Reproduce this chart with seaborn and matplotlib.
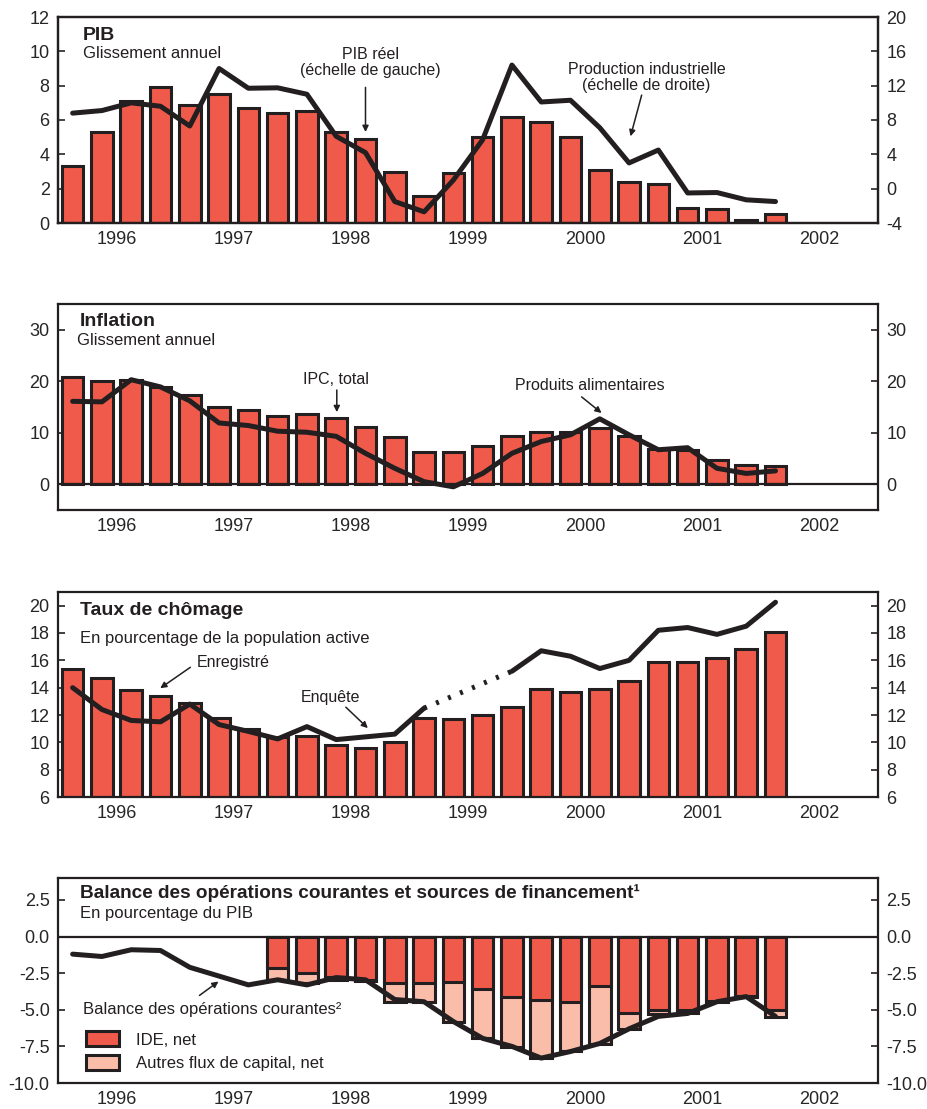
import numpy as np
import pandas as pd
import seaborn as sns
import matplotlib.pyplot as plt
from matplotlib.patches import Patch

# quarters 1996T1 .. 2002T1 (25 obs), axis runs to 2002T4
years = ["1996", "1997", "1998", "1999", "2000", "2001", "2002"]

# PIB
pib_reel = [3.3, 5.3, 7.1, 7.9, 6.9, 7.5, 6.7, 6.4, 6.5, 5.3, 4.9, 3.0, 1.6,
            2.9, 5.0, 6.2, 5.9, 5.0, 3.1, 2.4, 2.3, 0.9, 0.8, 0.2, 0.5]
prod_ind = [8.8, 9.1, 10.0, 9.6, 7.3, 14.0, 11.7, 11.75, 11.0, 6.1, 4.2, -1.5, -2.7,
            1.0, 5.7, 14.4, 10.1, 10.3, 7.1, 3.0, 4.5, -0.5, -0.45, -1.3, -1.5]

# Inflation
ipc_total = [20.8, 20.0, 20.3, 18.8, 17.4, 15.0, 14.4, 13.2, 13.6, 12.9, 11.1, 9.2, 6.2,
             6.3, 7.5, 9.4, 10.1, 10.1, 10.9, 9.4, 6.8, 6.7, 4.8, 3.8, 3.6]
alimentaires = [16.1, 16.0, 20.3, 18.9, 16.2, 11.9, 11.4, 10.3, 10.1, 9.3, 6.0, 3.1, 0.5,
                -0.5, 2.1, 6.0, 8.3, 9.6, 12.7, 9.6, 6.7, 7.1, 3.1, 2.1, 2.6]

# Chomage
enregistre = [15.4, 14.7, 13.8, 13.4, 12.9, 11.8, 11.0, 10.4, 10.5, 9.8, 9.6, 10.0, 11.8,
              11.7, 12.0, 12.55, 13.9, 13.7, 13.9, 14.5, 15.9, 15.9, 16.2, 16.85, 18.1]
enquete = [14.0, 12.4, 11.6, 11.5, 12.8, 11.3, 10.8, 10.25, 11.15, 10.2, 10.4, 10.6, 12.5,
           np.nan, np.nan, 15.2, 16.7, 16.3, 15.4, 16.0, 18.2, 18.4, 17.9, 18.5, 20.25]

# Balance courante et financement (bars from 1997T4)
bal_courante = [-1.2, -1.36, -0.9, -0.95, -2.1, -2.7, -3.3, -2.95, -3.3, -2.8, -2.95, -4.3, -4.45,
                -5.8, -6.95, -7.5, -8.3, -7.85, -7.3, -6.3, -5.45, -5.25, -4.45, -4.1, -5.45]
ide_net = [-2.16, -2.5, -2.75, -2.95, -3.2, -3.2, -3.1, -3.6, -4.1, -4.35, -4.5, -3.4,
           -5.2, -5.0, -5.0, -4.4, -4.05, -5.0]
autres_flux = [-0.8, -0.7, -0.2, -0.05, -1.25, -1.25, -2.7, -3.35, -3.45, -3.95, -3.3, -3.95,
               -1.1, -0.3, -0.25, -0.05, -0.1, -0.5]

RED = "#EF5A4B"
PINK = "#F9BDAA"
INK = "#231F20"

sns.set_style("white")
plt.rcParams['font.family'] = ['Liberation Sans', 'DejaVu Sans']
plt.rcParams['axes.edgecolor'] = INK
plt.rcParams['axes.linewidth'] = 1.6
plt.rcParams['text.color'] = INK

fig = plt.figure(figsize=(9.27, 11.09), dpi=100)
L, W = 58 / 927, 820 / 927
def add_ax(top, bot):
    return fig.add_axes([L, 1 - bot / 1109, W, (bot - top) / 1109])

q = np.arange(len(pib_reel))
q_bal = np.arange(7, 7 + len(ide_net))


def bars(ax, x, y, color):
    d = pd.DataFrame({"x": x, "y": y})
    sns.barplot(data=d, x="x", y="y", ax=ax, color=color, native_scale=True,
                width=0.74, edgecolor=INK, linewidth=2.2, saturation=1)


def line(ax, x, y, **kw):
    d = pd.DataFrame({"x": x, "y": y})
    d["seg"] = d["y"].isna().cumsum()
    d = d.dropna()
    sns.lineplot(data=d, x="x", y="y", units="seg", estimator=None, ax=ax,
                 color=INK, lw=3.6, **kw)


def arrow(ax, start, tip):
    ax.annotate("", xy=tip, xytext=start,
                arrowprops=dict(arrowstyle="-|>", color=INK, lw=1.1, shrinkA=0, shrinkB=0,
                                mutation_scale=9))


def style_x(ax):
    ax.set_xlim(-0.5, 27.5)
    ax.set_xticks(np.arange(1.5, 27, 2))
    lab = []
    for i in range(13):
        lab.append(years[i // 2] if i % 2 == 0 else "")
    ax.set_xticklabels(lab, fontsize=13)
    ax.set_xticks(np.arange(0.5, 27, 1), minor=True)
    ax.tick_params(axis="x", which="major", direction="in", length=9, width=1.2,
                   color=INK, pad=6)
    ax.tick_params(axis="x", which="minor", direction="in", length=5, width=1.2, color=INK)
    ax.set_xlabel("")
    ax.set_ylabel("")


def style_y(ax, ticks, fmt="{:g}"):
    ax.set_yticks(ticks)
    ax.set_yticklabels([fmt.format(t) for t in ticks], fontsize=13)
    ax.tick_params(axis="y", direction="in", length=5, width=1.2, color=INK,
                   left=True, right=True, labelleft=True, labelright=True, pad=6)


# ---- Panel 1: PIB
ax1 = add_ax(17, 223)
bars(ax1, q, pib_reel, RED)
ax1.set_ylim(0, 12)
style_x(ax1)
ax1.set_yticks(range(0, 13, 2))
ax1.set_yticklabels([str(t) for t in range(0, 13, 2)], fontsize=13)
ax1.tick_params(axis="y", direction="in", length=5, width=1.2, left=True, right=False, pad=6)
ax1r = ax1.twinx()
line(ax1r, q, prod_ind)
ax1r.set_ylim(-4, 20)
ax1r.set_yticks(range(-4, 21, 4))
ax1r.set_yticklabels([str(t) for t in range(-4, 21, 4)], fontsize=13)
ax1r.tick_params(axis="y", direction="in", length=5, width=1.2, pad=6)
ax1r.set_ylabel("")
ax1.text(0.03, 0.912, "PIB", transform=ax1.transAxes, fontsize=14, fontweight="bold", va="center")
ax1.text(0.03, 0.825, "Glissement annuel", transform=ax1.transAxes, fontsize=12, va="center")
ax1.text(10.18, 9.35, "PIB réel\n(échelle de gauche)", ha="center", va="center",
         fontsize=11.5, linespacing=1.05)
arrow(ax1, (10.0, 7.9), (10.0, 5.3))
ax1r.text(19.6, 12.96, "Production industrielle\n(échelle de droite)", ha="center",
          va="center", fontsize=11.5, linespacing=1.05)
arrow(ax1r, (19.43, 10.9), (19.05, 6.1))

# ---- Panel 2: Inflation
ax2 = add_ax(304, 510)
ax2.axhline(0, color=INK, lw=1.6)
bars(ax2, q, ipc_total, RED)
line(ax2, q, alimentaires)
ax2.set_ylim(-5, 35)
style_x(ax2)
style_y(ax2, [0, 10, 20, 30])
ax2.text(0.027, 0.913, "Inflation", transform=ax2.transAxes, fontsize=14, fontweight="bold", va="center")
ax2.text(0.023, 0.825, "Glissement annuel", transform=ax2.transAxes, fontsize=12, va="center")
ax2.text(9.0, 20.3, "IPC, total", ha="center", va="center", fontsize=11.5)
arrow(ax2, (9.02, 18.3), (9.02, 14.0))
ax2.text(17.65, 19.1, "Produits alimentaires", ha="center", va="center", fontsize=11.5)
arrow(ax2, (17.38, 16.96), (18.06, 13.84))

# ---- Panel 3: Chomage
ax3 = add_ax(592, 797)
bars(ax3, q, enregistre, RED)
line(ax3, q, enquete)
gap = [12, 15]
ax3.plot(gap, [enquete[12], enquete[15]], color=INK, lw=3.6, ls=(0, (0.6, 2.0)))
ax3.set_ylim(6, 21)
style_x(ax3)
style_y(ax3, list(range(6, 21, 2)))
ax3.text(0.027, 0.91, "Taux de chômage", transform=ax3.transAxes, fontsize=14,
         fontweight="bold", va="center")
ax3.text(0.027, 0.773, "En pourcentage de la population active", transform=ax3.transAxes,
         fontsize=12, va="center")
ax3.text(5.5, 15.85, "Enregistré", ha="center", va="center", fontsize=11.5)
arrow(ax3, (4.02, 15.49), (2.99, 13.96))
ax3.text(8.82, 13.3, "Enquête", ha="center", va="center", fontsize=11.5)
arrow(ax3, (9.33, 12.57), (10.08, 11.04))

# ---- Panel 4: Balance
ax4 = add_ax(878, 1083)
ax4.axhline(0, color=INK, lw=1.6)
total = [a + b for a, b in zip(ide_net, autres_flux)]
bars(ax4, q_bal, total, PINK)
bars(ax4, q_bal, ide_net, RED)
line(ax4, q, bal_courante)
ax4.set_ylim(-10, 4)
style_x(ax4)
style_y(ax4, [-10, -7.5, -5, -2.5, 0, 2.5], fmt="{:.1f}")
ax4.text(0.027, 0.925, "Balance des opérations courantes et sources de financement\u00b9",
         transform=ax4.transAxes, fontsize=13.7, fontweight="bold", va="center")
ax4.text(0.027, 0.826, "En pourcentage du PIB", transform=ax4.transAxes, fontsize=12, va="center")
ax4.text(4.75, -4.98, "Balance des opérations courantes\u00b2", ha="center", va="center",
         fontsize=12)
arrow(ax4, (4.33, -4.02), (4.98, -3.07))
handles = [Patch(facecolor=RED, edgecolor=INK, lw=2.2, label="IDE, net"),
           Patch(facecolor=PINK, edgecolor=INK, lw=2.2, label="Autres flux de capital, net")]
ax4.legend(handles=handles, loc="lower left", bbox_to_anchor=(0.02, 0.0), frameon=False,
           fontsize=12, handlelength=2.0, handleheight=1.0, labelspacing=0.45,
           handletextpad=1.0, borderaxespad=0.3)

for a in (ax1, ax1r, ax2, ax3, ax4):
    for s in a.spines.values():
        s.set_visible(True)
        s.set_color(INK)
    a.grid(False)

fig.savefig("out.png", dpi=100)
